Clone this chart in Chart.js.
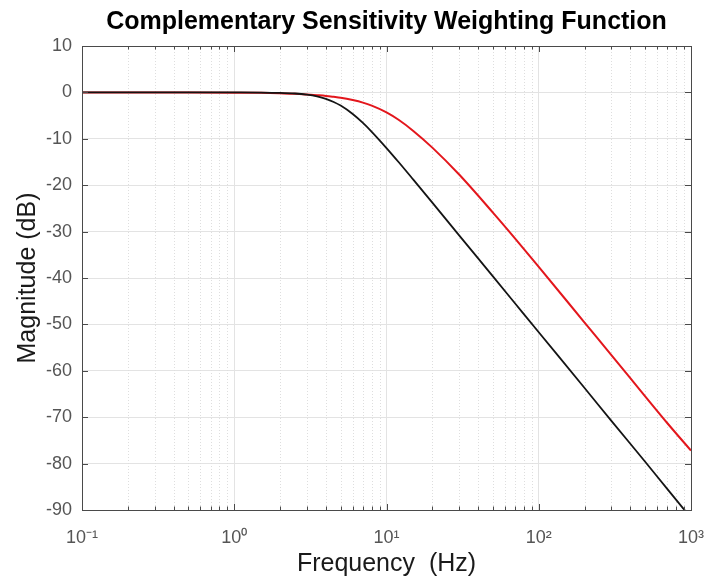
<!DOCTYPE html>
<html>
<head>
<meta charset="utf-8">
<script src="https://cdn.jsdelivr.net/npm/chart.js@4"></script>
<style>
  body { margin: 0; background: #fff; }
  #wrap { width: 705px; height: 581px; position: relative; }
</style>
</head>
<body>
<div id="wrap"><canvas id="bode-chart"></canvas></div>
<script>
// frequency points (Hz)
const freq = [0.1, 0.2, 0.5, 1, 1.5, 2, 2.5, 3, 3.5, 4, 4.5, 5, 6, 7, 8, 10, 12, 15, 20, 30, 50, 70, 100, 200, 300, 500, 700, 1000];
// magnitude in dB, black curve
const blackDb = [0, 0, 0, -0.01, -0.03, -0.1, -0.24, -0.49, -0.87, -1.39, -2.06, -2.84, -4.65, -6.58, -8.49, -11.99, -15.0, -18.8, -23.75, -30.8, -39.65, -45.5, -51.7, -63.7, -70.8, -79.6, -85.5, -91.7];
// magnitude in dB, red curve
const redDb = [0, 0, -0.01, -0.05, -0.1, -0.2, -0.3, -0.45, -0.6, -0.75, -0.95, -1.15, -1.65, -2.2, -2.85, -4.3, -5.9, -8.3, -11.9, -17.7, -25.9, -31.5, -37.6, -49.6, -56.6, -65.5, -71.3, -77.2];

const xTickValues = [0.1, 1, 10, 100, 1000];
const xTickLabels = ['10⁻¹', '10⁰', '10¹', '10²', '10³'];
const yTickValues = [10, 0, -10, -20, -30, -40, -50, -60, -70, -80, -90];

const minorX = [];
xTickValues.slice(0, -1).forEach(d => {
    for (let k = 2; k <= 9; k++) minorX.push(d * k);
});

Chart.defaults.font.family = '"Liberation Sans", Arial, Helvetica, sans-serif';

// MATLAB look: dotted minor grid, full box, ticks pointing inwards
const matlabAxes = {
    id: 'matlabAxes',
    beforeDatasetsDraw(chart) {
        const { ctx, chartArea: a, scales: { x } } = chart;
        ctx.save();
        ctx.strokeStyle = '#dedede';
        ctx.lineWidth = 1;
        ctx.setLineDash([1, 2]);
        minorX.forEach(v => {
            const px = Math.round(x.getPixelForValue(v)) + 0.5;
            ctx.beginPath();
            ctx.moveTo(px, a.top);
            ctx.lineTo(px, a.bottom);
            ctx.stroke();
        });
        ctx.restore();
    },
    afterDatasetsDraw(chart) {
        const { ctx, chartArea: a, scales: { x, y } } = chart;
        ctx.save();
        ctx.strokeStyle = '#4a4a4a';
        ctx.lineWidth = 1;
        ctx.beginPath();
        xTickValues.concat(minorX).forEach((v, i) => {
            const len = i < xTickValues.length ? 6 : 3.5;
            const px = Math.round(x.getPixelForValue(v)) + 0.5;
            ctx.moveTo(px, a.bottom); ctx.lineTo(px, a.bottom - len);
            ctx.moveTo(px, a.top); ctx.lineTo(px, a.top + len);
        });
        yTickValues.forEach(v => {
            const py = Math.round(y.getPixelForValue(v)) + 0.5;
            ctx.moveTo(a.left, py); ctx.lineTo(a.left + 6, py);
            ctx.moveTo(a.right, py); ctx.lineTo(a.right - 6, py);
        });
        ctx.stroke();
        ctx.strokeRect(Math.round(a.left) + 0.5, Math.round(a.top) + 0.5,
            Math.round(a.right - a.left), Math.round(a.bottom - a.top));
        ctx.restore();
    }
};

const ctx = document.getElementById('bode-chart').getContext('2d');
const chart = new Chart(ctx, {
    type: 'line',
    data: {
        datasets: [{
            label: 'Black',
            data: freq.map((f, i) => ({ x: f, y: blackDb[i] })),
            borderColor: '#141414',
            borderWidth: 1.8,
            pointRadius: 0,
            cubicInterpolationMode: 'monotone'
        }, {
            label: 'Red',
            data: freq.map((f, i) => ({ x: f, y: redDb[i] })),
            borderColor: '#e3161c',
            borderWidth: 2,
            pointRadius: 0,
            cubicInterpolationMode: 'monotone'
        }]
    },
    options: {
        responsive: true,
        maintainAspectRatio: false,
        animation: false,
        events: [],
        layout: {
            padding: { left: 0, right: 14, top: 0, bottom: 0 }
        },
        scales: {
            x: {
                type: 'logarithmic',
                min: 0.1,
                max: 1000,
                afterBuildTicks: s => { s.ticks = xTickValues.map(v => ({ value: v })); },
                afterFit: s => { s.height = 71; s.paddingLeft = 0; s.paddingRight = 0; },
                ticks: {
                    autoSkip: false,
                    maxRotation: 0,
                    padding: 17,
                    color: '#555',
                    font: { size: 18 },
                    callback: v => xTickLabels[xTickValues.indexOf(v)]
                },
                grid: { color: '#e3e3e3', drawTicks: false },
                border: { display: false },
                title: {
                    display: true,
                    text: 'Frequency  (Hz)',
                    color: '#1a1a1a',
                    font: { size: 25 },
                    padding: { top: 0, bottom: 2 }
                }
            },
            y: {
                min: -90,
                max: 10,
                afterFit: s => { s.width = 82; s.paddingTop = 0; s.paddingBottom = 0; },
                ticks: {
                    stepSize: 10,
                    padding: 10,
                    color: '#555',
                    font: { size: 18 }
                },
                grid: { color: '#e3e3e3', drawTicks: false },
                border: { display: false },
                title: {
                    display: true,
                    text: 'Magnitude (dB)',
                    color: '#1a1a1a',
                    font: { size: 25 },
                    padding: { top: 13, bottom: 0 }
                }
            }
        },
        plugins: {
            legend: { display: false },
            tooltip: { enabled: false },
            title: {
                display: true,
                fullSize: false,
                text: 'Complementary Sensitivity Weighting Function',
                color: '#000',
                font: { size: 25, weight: 'bold' },
                padding: { top: 7, bottom: 9 }
            }
        }
    },
    plugins: [matlabAxes]
});
</script>
</body>
</html>
